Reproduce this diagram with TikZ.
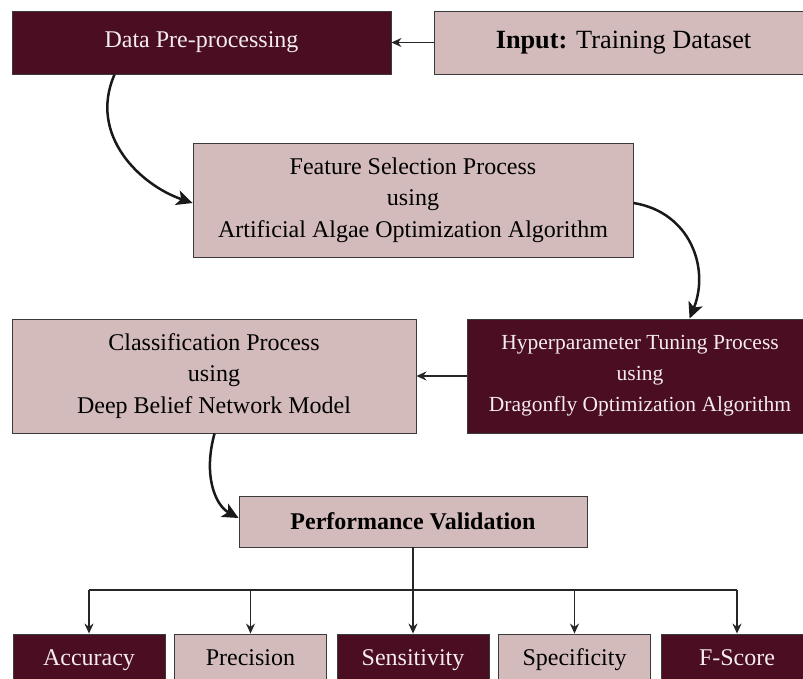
\documentclass[tikz,border=0pt]{standalone}
\usepackage{fontspec}
\setmainfont{Liberation Serif}
\usetikzlibrary{arrows.meta,calc}
\definecolor{maroon}{HTML}{4A0D22}
\definecolor{rose}{HTML}{D4BBBB}
\definecolor{edgegray}{HTML}{3A3A3A}
\definecolor{paletext}{HTML}{F4ECEE}
\begin{document}
\begin{tikzpicture}[x=1pt,y=-1pt,
  box/.style={draw=edgegray, line width=0.9pt, rectangle, align=center, inner sep=0pt,
    font=\fontsize{24}{31.5}\selectfont},
  darkbox/.style={box, fill=maroon, text=paletext},
  lightbox/.style={box, fill=rose, text=black},
  metric/.style={minimum width=152pt, minimum height=50pt, execute at begin node=\strut},
  arr/.style={-{Stealth[length=10pt,width=9pt]}, line width=1.4pt, draw=black!85},
  curvearr/.style={-{Stealth[length=16pt,width=15pt,inset=4pt]}, line width=2.5pt, draw=black!90},
  link/.style={line width=1.4pt, draw=black!85}]
\useasboundingbox (0,0) rectangle (803,678);
\clip (0,0) rectangle (803,678);
\fill[white] (0,0) rectangle (803,678);

% top row
\node[darkbox, minimum width=379pt, minimum height=63pt] (data) at (201.5,42.5) {Data Pre-processing};
\node[lightbox, minimum width=379pt, minimum height=63pt, font=\fontsize{26.3}{31.5}\selectfont] (input) at (623.5,42.5) {\textbf{Input:} Training Dataset};

% feature selection
\node[lightbox, minimum width=440pt, minimum height=114pt] (feat) at (413,200)
  {Feature Selection Process\\using\\Artificial Algae Optimization Algorithm};

% middle row
\node[lightbox, minimum width=404pt, minimum height=114pt] (class) at (214,376)
  {Classification Process\\using\\Deep Belief Network Model};
\node[darkbox, minimum width=346pt, minimum height=114pt, font=\fontsize{21.5}{31}\selectfont] (hyper) at (640,376)
  {Hyperparameter Tuning Process\\using\\Dragonfly Optimization Algorithm};

% performance validation
\node[lightbox, minimum width=348pt, minimum height=51pt, font=\fontsize{24}{31.5}\selectfont\bfseries] (perf) at (413,521.5)
  {Performance Validation};

% bottom metrics
\node[darkbox, metric] (acc) at (89,659) {Accuracy};
\node[lightbox, metric] (prec) at (250.5,659) {Precision};
\node[darkbox, metric] (sens) at (413,659) {Sensitivity};
\node[lightbox, metric] (spec) at (574.5,659) {Specificity};
\node[darkbox, metric] (fs) at (737,659) {F-Score};

% straight arrows
\draw[arr] (input.west) -- (data.east);
\draw[arr] (hyper.west) -- (class.east);

% curved arrows
\draw[curvearr] ([xshift=103pt]data.south west) .. controls (88,135) and (140,185) .. ([yshift=-3pt]feat.west);
\draw[curvearr] ([yshift=-3pt]feat.east) .. controls (690,212) and (710,268) .. ([xshift=223pt]hyper.north west);
\draw[curvearr] ([xshift=203pt]class.south west) .. controls (203,475) and (215,505) .. ([yshift=3.5pt]perf.west);

% branching
\coordinate (bus) at (413,590);
\draw[link] (perf.south) -- (bus);
\draw[link] (bus -| acc.north) -- (bus -| fs.north);
\foreach \n in {acc,prec,sens,spec,fs}
  \draw[arr] (bus -| \n.north) -- (\n.north);
\end{tikzpicture}
\end{document}
